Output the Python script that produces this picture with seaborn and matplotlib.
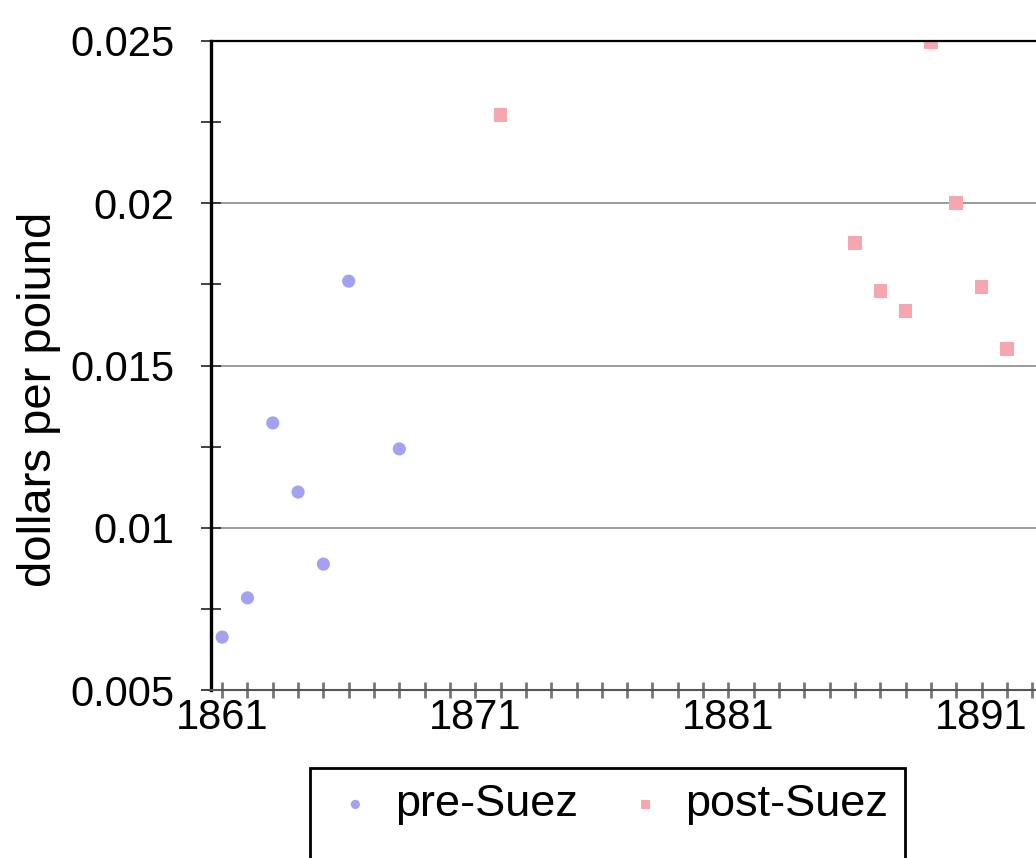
import matplotlib
matplotlib.use("Agg")
import matplotlib.pyplot as plt
from matplotlib.patches import Rectangle
from matplotlib.ticker import FixedLocator, MultipleLocator
import pandas as pd
import seaborn as sns

# ---- data ----
pre_years = [1861, 1862, 1863, 1864, 1865, 1866, 1868]
pre_price = [0.00663, 0.00784, 0.01323, 0.0111, 0.00888, 0.0176, 0.01243]

post_years = [1872, 1886, 1887, 1888, 1889, 1890, 1891, 1892]
post_price = [0.02272, 0.01878, 0.0173, 0.01668, 0.02495, 0.02001, 0.01742, 0.01551]

label_years = [1861, 1871, 1881, 1891, 1901]
y_ticks = [0.005, 0.01, 0.015, 0.02, 0.025]
y_tick_labels = ["0.005", "0.01", "0.015", "0.02", "0.025"]

pre_df = pd.DataFrame({"year": pre_years, "price": pre_price})
post_df = pd.DataFrame({"year": post_years, "price": post_price})

sns.set_style("white")
plt.rcParams["font.family"] = ["Liberation Sans", "DejaVu Sans"]
plt.rcParams["text.color"] = "black"

fig = plt.figure(figsize=(10.36, 8.58), dpi=100)
# axes runs past the right edge of the figure (chart is cropped)
ax = fig.add_axes([211 / 1036, 168 / 858, 1011 / 1036, 649 / 858])

sns.scatterplot(data=pre_df, x="year", y="price", ax=ax, color="#a2a2f0",
                marker="o", s=90, edgecolor="none", label="pre-Suez")
sns.scatterplot(data=post_df, x="year", y="price", ax=ax, color="#f5a6ae",
                marker="s", s=95, edgecolor="none", label="post-Suez")

ax.set_xlim(1860.56, 1900.5)
ax.set_ylim(0.005, 0.025)
ax.set_xlabel("")
ax.set_ylabel("dollars per poiund", fontsize=34, color="black")
ax.yaxis.set_label_coords(-150 / 1011, 0.448)

ax.xaxis.set_major_locator(FixedLocator(label_years))
ax.xaxis.set_minor_locator(MultipleLocator(1))
ax.set_xticklabels([str(y) for y in label_years])
ax.yaxis.set_major_locator(FixedLocator(y_ticks))
ax.yaxis.set_minor_locator(MultipleLocator(0.0025))
ax.set_yticklabels(y_tick_labels)

ax.tick_params(axis="x", which="both", direction="inout", length=12, width=2,
               color="#777777", labelsize=30, labelcolor="black", pad=0, bottom=True)
ax.tick_params(axis="y", which="both", direction="inout", length=15, width=1.3,
               color="#333333", labelsize=30, labelcolor="black", pad=19, left=True)

ax.grid(axis="y", which="major", color="#8a8a8a", linewidth=1.2)
ax.set_axisbelow(True)

ax.spines["left"].set_color("black")
ax.spines["left"].set_linewidth(2.4)
ax.spines["bottom"].set_color("#555555")
ax.spines["bottom"].set_linewidth(1.5)
ax.spines["top"].set_color("black")
ax.spines["top"].set_linewidth(1.6)
ax.spines["right"].set_visible(False)

handles, labels = ax.get_legend_handles_labels()
ax.get_legend().remove()
leg = fig.legend(handles, labels, loc="upper left", bbox_to_anchor=(310 / 1036, 1 - 768 / 858),
                 borderaxespad=0, ncol=2, fontsize=32.5, frameon=False, markerscale=0.7,
                 handlelength=1.29, handletextpad=0.24, columnspacing=0.84, borderpad=0.36)

# legend box runs off the bottom of the cropped figure
fig.canvas.draw()
bb = leg.get_window_extent().transformed(fig.transFigure.inverted())
fig.patches.append(Rectangle((bb.x0, -0.05), bb.width, bb.y1 + 0.05, transform=fig.transFigure,
                             fill=False, edgecolor="black", linewidth=2, zorder=5))

fig.savefig("out.png", dpi=100)
